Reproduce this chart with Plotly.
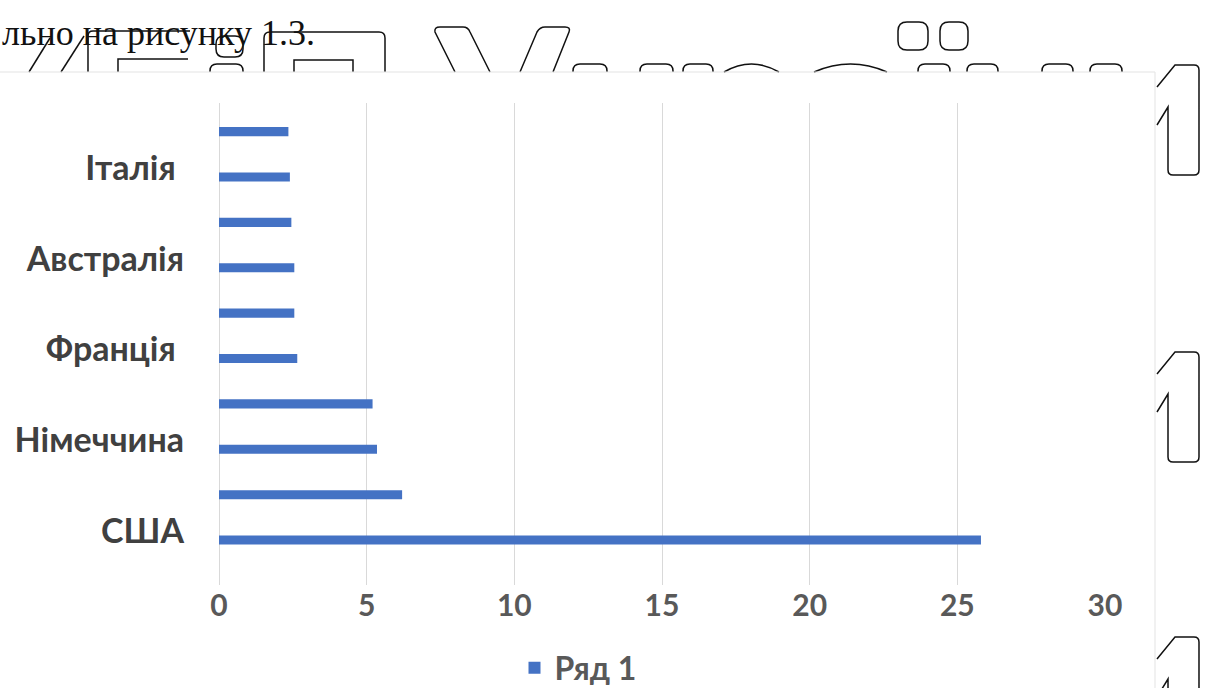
import plotly.graph_objects as go

# Series data (bottom to top); unlabeled rows keep an empty caption
categories = ["США", "", "Німеччина", "", "Франція\u00a0", "", "Австралія", "", "Італія\u00a0", ""]
values = [25.8, 6.2, 5.35, 5.2, 2.65, 2.55, 2.55, 2.45, 2.4, 2.35]
series_name = "Ряд 1"
x_ticks = [0, 5, 10, 15, 20, 25, 30]
caption = "льно на рисунку 1.3."

BAR_BLUE = "#4472C4"
FONT = "Lato"

# plot-area box in page pixels, used to place decorative strokes
L, R, T, B = 219, 1105, 103, 585


def px(x):
    return (x - L) / (R - L)


def py(y):
    return (B - y) / (B - T)


def path(cmds):
    out = []
    for c in cmds:
        op, pts = c[0], c[1:]
        coords = []
        for i in range(0, len(pts), 2):
            coords.append(f"{px(pts[i]):.5f},{py(pts[i + 1]):.5f}")
        out.append(op + " " + " ".join(coords))
    return " ".join(out)


positions = list(range(len(values)))
tickvals = [p for p, c in zip(positions, categories) if c]
ticktext = [c for c in categories if c]

fig = go.Figure()
fig.add_trace(go.Bar(
    x=values,
    y=positions,
    orientation="h",
    width=0.2,
    marker=dict(color=BAR_BLUE, line=dict(width=0)),
    name=series_name,
    showlegend=True,
))

shapes = []
stroke = dict(color="#111111", width=1.5)


def add_path(cmds, line=stroke):
    shapes.append(dict(type="path", xref="paper", yref="paper",
                       path=path(cmds), line=line, fillcolor="rgba(0,0,0,0)"))


def rounded_rect(x0, y0, x1, y1, r):
    add_path([("M", x0 + r, y0), ("L", x1 - r, y0), ("Q", x1, y0, x1, y0 + r),
              ("L", x1, y1 - r), ("Q", x1, y1, x1 - r, y1), ("L", x0 + r, y1),
              ("Q", x0, y1, x0, y1 - r), ("L", x0, y0 + r), ("Q", x0, y0, x0 + r, y0)])


def cap_arc(x0, x1, top=64, base=72):
    r = min(7, (x1 - x0) / 3)
    add_path([("M", x0, base), ("L", x0, top + r), ("Q", x0, top, x0 + r, top),
              ("L", x1 - r, top), ("Q", x1, top, x1, top + r), ("L", x1, base)])


# outlined "1" glyphs along the right edge of the page
for t in (65, 352, 637):
    add_path([("M", 1157, t + 60), ("L", 1168, t + 42), ("L", 1168, t + 105),
              ("Q", 1168, t + 110, 1173, t + 110), ("L", 1194, t + 110),
              ("Q", 1199, t + 110, 1199, t + 105), ("L", 1199, t + 5),
              ("Q", 1199, t, 1194, t), ("L", 1175, t), ("L", 1157, t + 22)])

# outlined heading glyphs above the chart
add_path([("M", 29, 72), ("L", 50, 38)])
add_path([("M", 61, 72), ("L", 84, 36)])
add_path([("M", 88, 72), ("L", 88, 36), ("Q", 88, 31, 93, 31), ("L", 190, 31)])
add_path([("M", 118, 72), ("L", 118, 59), ("L", 188, 59)])
rounded_rect(216, 36, 243, 57, 8)
add_path([("M", 264, 72), ("L", 264, 38), ("Q", 264, 32, 270, 32), ("L", 379, 32),
          ("Q", 385, 32, 385, 38), ("L", 385, 72)])
add_path([("M", 294, 72), ("L", 294, 60), ("L", 353, 60), ("L", 353, 72)])
add_path([("M", 455, 72), ("L", 435, 32), ("Q", 434, 27, 440, 27), ("L", 463, 27),
          ("Q", 468, 27, 470, 32), ("L", 490, 72)])
add_path([("M", 520, 72), ("L", 537, 32), ("Q", 540, 27, 545, 27), ("L", 565, 27),
          ("Q", 571, 27, 569, 32), ("L", 553, 72)])
for a, b in [(210, 243), (573, 607), (640, 673), (683, 713), (918, 950),
             (967, 998), (1042, 1073), (1090, 1122)]:
    cap_arc(a, b)
for a, b in [(724, 779), (814, 887)]:
    add_path([("M", a, 72), ("Q", (a + b) / 2, 56, b, 72)])
rounded_rect(898, 22, 928, 50, 9)
rounded_rect(940, 22, 968, 50, 9)

# faint chart-area border
border = dict(color="#e3e3e3", width=1)
add_path([("M", 0, 72), ("L", 1155, 72)], border)
add_path([("M", 1155, 72), ("L", 1155, 688)], border)

fig.update_layout(
    width=1209,
    height=688,
    margin=dict(l=L, r=1209 - R, t=T, b=688 - B, pad=0, autoexpand=False),
    paper_bgcolor="white",
    plot_bgcolor="white",
    font=dict(family=FONT, color="#595959"),
    bargap=0.8,
    xaxis=dict(
        range=[0, 30],
        tickvals=x_ticks,
        ticktext=[str(v) for v in x_ticks],
        showgrid=True,
        gridcolor="#d9d9d9",
        gridwidth=1,
        zeroline=True,
        zerolinecolor="#d9d9d9",
        zerolinewidth=1,
        showline=False,
        ticks="",
        tickfont=dict(family=FONT, size=30, color="#595959", weight="bold"),
        ticklabelstandoff=0,
        automargin=False,
        fixedrange=True,
    ),
    yaxis=dict(
        range=[-0.99, 9.63],
        tickvals=tickvals,
        ticktext=ticktext,
        showgrid=False,
        zeroline=False,
        showline=False,
        ticks="",
        tickfont=dict(family=FONT, size=34, color="#404040", weight="bold"),
        ticklabelstandoff=34,
        ticklabelshift=-9,
        automargin=False,
        fixedrange=True,
    ),
    legend=dict(
        orientation="h",
        x=px(578),
        xanchor="center",
        y=py(668),
        yanchor="middle",
        font=dict(family=FONT, size=32, color="#595959", weight="bold"),
        itemwidth=30,
        bgcolor="rgba(0,0,0,0)",
    ),
    shapes=shapes,
    annotations=[dict(
        text=caption,
        xref="paper", yref="paper",
        x=px(0), y=py(33),
        xanchor="left", yanchor="middle",
        showarrow=False,
        font=dict(family="Liberation Serif", size=36, color="#111111"),
    )],
)

fig.write_html("out.html")
